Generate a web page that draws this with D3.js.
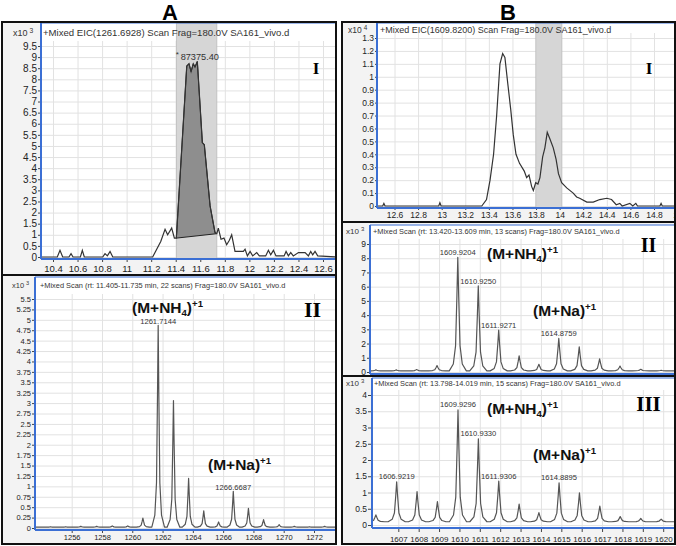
<!DOCTYPE html>
<html>
<head>
<meta charset="utf-8">
<script src="https://cdn.jsdelivr.net/npm/d3@7"></script>
<style>
body { margin: 0; background: #fff; }
text { font-family: "Liberation Sans", Arial, sans-serif; }
</style>
</head>
<body>
<svg id="fig" width="676" height="546"></svg>
<script>
// ---- A-I: EIC 1261.6928, time (min) vs counts (x10^3)
var eicA = [[10.30,0],[10.435,0],[10.457,0.3],[10.479,0],[10.53,0],[10.547,0.15],[10.563,0],[10.623,0],[10.639,0.3],[10.655,0],
  [10.805,0],[10.824,0.15],[10.843,0.05],[10.865,0.25],[10.887,0],[11.212,0],[11.245,0.35],[11.278,0.7],[11.313,1.25],[11.334,1.0],
  [11.367,1.3],[11.389,0.85],[11.405,0.85],[11.49,8.6],[11.508,8.7],[11.525,8.35],[11.543,8.7],[11.557,8.55],[11.576,8.8],[11.617,5.15],
  [11.633,5.05],[11.68,2.3],[11.72,1.1],[11.735,1.05],[11.747,1.3],[11.769,0.8],[11.793,0.85],[11.815,0.55],[11.837,0.75],[11.856,1.0],
  [11.883,0.25],[11.951,0.25],[11.965,0.35],[11.984,0.05],[12.006,0.25],[12.027,0.05],[12.06,0.2],[12.081,0.05],[12.133,0.05],[12.155,0.3],
  [12.174,0.1],[12.196,0.3],[12.217,0.05],[12.283,0.05],[12.299,0.25],[12.318,0.05],[12.337,0.2],[12.358,0.05],[12.4,0.2],[12.454,0.2],
  [12.481,0.05],[12.5,0.25],[12.516,0.1],[12.535,0.25],[12.557,0.05],[12.72,0]];
var shadeA = [11.405, 11.735];
var xTicksAI = [10.4,10.6,10.8,11,11.2,11.4,11.6,11.8,12,12.2,12.4,12.6];
var yTicksAI = [0,0.5,1,1.5,2,2.5,3,3.5,4,4.5,5,5.5,6,6.5,7,7.5,8,8.5,9,9.5];

// ---- A-II: mass spectrum (m/z vs counts x10^3)
var specA = [[1254.6,0.03],[1255.6,0.03],[1256.6,0.04],[1257.65,0.04],[1258.68,0.05],[1259.7,0.05],[1260.7,0.24],[1261.71,4.87],
  [1262.72,3.06],[1263.72,1.19],[1264.72,0.41],[1265.7,0.145],[1266.67,0.88],[1267.67,0.47],[1268.67,0.2],[1269.7,0.08],
  [1270.7,0.04],[1271.7,0.03],[1272.7,0.04]];
var labelsA = [[1261.71,'1261.7144'],[1266.67,'1266.6687']];
var xTicksAII = [1256,1258,1260,1262,1264,1266,1268,1270,1272];
var yTicksAII = [0,0.25,0.5,0.75,1,1.25,1.5,1.75,2,2.25,2.5,2.75,3,3.25,3.5,3.75,4,4.25,4.5,4.75,5,5.25,5.5];

// ---- B-I: EIC 1609.8200, time (min) vs counts (x10^4)
var eicB = [[12.44,0],[12.5,0],[12.51,0.02],[12.52,0],[12.975,0],[12.985,0.025],[12.995,0],[13.34,0],[13.38,0.05],[13.41,0.2],
  [13.44,0.4],[13.466,0.7],[13.494,1.1],[13.517,1.18],[13.536,1.15],[13.56,0.95],[13.585,0.75],[13.607,0.55],[13.63,0.4],[13.66,0.33],
  [13.7,0.27],[13.72,0.22],[13.74,0.24],[13.763,0.15],[13.777,0.12],[13.797,0.18],[13.816,0.17],[13.833,0.22],[13.856,0.38],[13.875,0.45],
  [13.895,0.57],[13.917,0.52],[13.946,0.45],[13.97,0.36],[13.99,0.25],[14.017,0.18],[14.06,0.14],[14.115,0.1],[14.144,0.07],[14.17,0.06],
  [14.23,0.03],[14.285,0.03],[14.34,0.05],[14.4,0.06],[14.44,0.05],[14.48,0.01],[14.51,0.02],[14.53,0],[14.595,0.02],[14.62,0],
  [14.646,0.02],[14.66,0],[14.85,0],[14.86,0.02],[14.87,0],[14.98,0]];
var shadeB = [13.798, 14.019];
var xTicksBI = [12.6,12.8,13,13.2,13.4,13.6,13.8,14,14.2,14.4,14.6,14.8,15];
var yTicksBI = [0,0.1,0.2,0.3,0.4,0.5,0.6,0.7,0.8,0.9,1,1.1,1.2,1.3];

// ---- B-II / B-III: mass spectra (m/z vs counts x10^3)
var specB2 = [[1605.9,0.15],[1606.9,0.15],[1607.9,0.17],[1608.9,0.45],[1609.92,8.07],[1610.925,6.06],[1611.927,2.95],[1612.93,1.13],
  [1613.9,0.54],[1614.876,2.36],[1615.88,1.77],[1616.88,0.92],[1617.88,0.42],[1618.9,0.19],[1619.9,0.12]];
var labelsB2 = [[1609.92,'1609.9204'],[1610.925,'1610.9250'],[1611.927,'1611.9271'],[1614.876,'1614.8759']];
var specB3 = [[1605.9,0.31],[1606.92,1.33],[1607.92,1.03],[1608.92,0.72],[1609.93,3.54],[1610.93,2.65],[1611.93,1.35],[1612.93,0.64],
  [1613.9,0.38],[1614.89,1.30],[1615.89,0.99],[1616.89,0.58],[1617.89,0.26],[1618.9,0.2],[1619.9,0.18]];
var labelsB3 = [[1606.92,'1606.9219'],[1609.93,'1609.9296'],[1610.93,'1610.9330'],[1611.93,'1611.9306'],[1614.89,'1614.8895']];
var xTicksB = [1607,1608,1609,1610,1611,1612,1613,1614,1615,1616,1617,1618,1619,1620];
var yTicksBII = [0,1,2,3,4,5,6,7,8,9];
var yTicksBIII = [0,0.5,1,1.5,2,2.5,3,3.5,4];

var svg = d3.select('#fig');
var blue = '#3b6fd4';

var panels = [
  { id: 'AI', frame: [2, 22, 336, 275], plot: [41, 23, 335, 259], xd: [10.4, 12.6], xr: [53, 323], yd: [0, 9.5], yr: [257, 46],
    xt: xTicksAI, yt: yTicksAI, fx: 9.5, fy: 10, tick: 3, pad: 3, exp: '3', expPos: [13, 36], expSize: 9,
    title: '+Mixed EIC(1261.6928) Scan Frag=180.0V SA161_vivo.d', titlePos: [43, 36], titleSize: 9.6,
    eic: eicA, shade: shadeA, area: true },
  { id: 'AII', frame: [2, 275, 336, 544], plot: [35, 277, 335, 530], xd: [1256, 1272], xr: [71.7, 314], yd: [0, 5.5], yr: [528, 299],
    xt: xTicksAII, yt: yTicksAII, fx: 7.5, fy: 7.5, tick: 3, pad: 2, exp: '3', expPos: [12, 288], expSize: 7.5,
    title: '+Mixed Scan (rt: 11.405-11.735 min, 22 scans) Frag=180.0V SA161_vivo.d', titlePos: [40, 288], titleSize: 7.4,
    spec: specA, base: 0.02, labels: labelsA, labelGap: 1.5 },
  { id: 'BI', frame: [342, 22, 675, 222], plot: [377, 23, 674, 208], xd: [12.6, 14.8], xr: [394.5, 654], yd: [0, 1.3], yr: [206, 38],
    xt: xTicksBI, yt: yTicksBI, fx: 8.5, fy: 8.5, tick: 2, pad: 2, exp: '4', expPos: [348, 33], expSize: 8.5,
    title: '+Mixed EIC(1609.8200) Scan Frag=180.0V SA161_vivo.d', titlePos: [380, 33], titleSize: 9,
    eic: eicB, shade: shadeB, area: false },
  { id: 'BII', frame: [342, 222, 675, 376], plot: [370, 225, 674, 374], xd: [1607, 1620], xr: [398.3, 663.2], yd: [0, 9], yr: [372, 244],
    xt: xTicksB, yt: yTicksBII, fx: 0, fy: 8.5, tick: 3, pad: 2, exp: '3', expPos: [346, 234], expSize: 8,
    title: '+Mixed Scan (rt: 13.420-13.609 min, 13 scans) Frag=180.0V SA161_vivo.d', titlePos: [373, 234], titleSize: 7.4,
    spec: specB2, base: 0.08, labels: labelsB2, labelGap: 2 },
  { id: 'BIII', frame: [342, 376, 675, 544], plot: [372, 378, 674, 528], xd: [1607, 1620], xr: [398.3, 663.2], yd: [0, 4], yr: [525, 395],
    xt: xTicksB, yt: yTicksBIII, fx: 8, fy: 8.5, tick: 4, pad: 4, exp: '3', expPos: [346, 386], expSize: 8,
    title: '+Mixed Scan (rt: 13.798-14.019 min, 15 scans) Frag=180.0V SA161_vivo.d', titlePos: [374, 386], titleSize: 7.4,
    spec: specB3, base: 0.1, labels: labelsB3, labelGap: 2.5 }
];

// spectrum profile: narrow peaks with flared bases on a flat baseline
function peakPoints(peaks, base, lo, hi) {
  var pts = [[lo, base]];
  peaks.forEach(function(d) {
    var m = d[0], h = d[1] - base;
    pts.push([m - 0.42, base], [m - 0.22, base + h * 0.06], [m - 0.11, base + h * 0.22], [m - 0.045, base + h * 0.65], [m, d[1]],
             [m + 0.045, base + h * 0.65], [m + 0.11, base + h * 0.22], [m + 0.22, base + h * 0.06], [m + 0.42, base]);
  });
  pts.push([hi, base]);
  return pts;
}

panels.forEach(function(p) {
  var f = p.frame, pl = p.plot;
  var g = svg.append('g');
  var x = d3.scaleLinear().domain(p.xd).range(p.xr);
  var y = d3.scaleLinear().domain(p.yd).range(p.yr);

  g.append('rect').attr('x', f[0]).attr('y', f[1]).attr('width', f[2] - f[0]).attr('height', f[3] - f[1]).attr('fill', '#f3f3f3');
  g.append('rect').attr('x', pl[0]).attr('y', pl[1]).attr('width', pl[2] - pl[0]).attr('height', pl[3] - pl[1]).attr('fill', '#fff');

  svg.append('clipPath').attr('id', 'clip' + p.id).append('rect')
    .attr('x', pl[0]).attr('y', pl[1]).attr('width', pl[2] - pl[0]).attr('height', pl[3] - pl[1]);
  var inner = g.append('g').attr('clip-path', 'url(#clip' + p.id + ')');

  // grid
  var gridTop = y(p.yt[p.yt.length - 1]) - 5;
  inner.append('g').attr('class', 'grid').attr('transform', 'translate(0,' + pl[3] + ')')
    .call(d3.axisBottom(x).tickValues(p.xt).tickSize(-(pl[3] - gridTop)).tickFormat(''));
  inner.append('g').attr('class', 'grid').attr('transform', 'translate(' + pl[0] + ',0)')
    .call(d3.axisLeft(y).tickValues(p.yt).tickSize(-(pl[2] - pl[0])).tickFormat(''));
  inner.selectAll('.grid .domain').remove();
  inner.selectAll('.grid line').attr('stroke', '#e2e2e2').attr('stroke-width', 1);

  var line = d3.line().x(function(d) { return x(d[0]); }).y(function(d) { return y(d[1]); });

  if (p.eic) {
    inner.append('rect').attr('x', x(p.shade[0])).attr('y', pl[1])
      .attr('width', x(p.shade[1]) - x(p.shade[0])).attr('height', pl[3] - pl[1])
      .attr('fill', '#d6d6d6').attr('stroke', '#bcbcbc').attr('stroke-width', 0.8);
    if (p.area) {
      var inside = p.eic.filter(function(d) { return d[0] >= p.shade[0] - 1e-6 && d[0] <= p.shade[1] + 1e-6; });
      inner.append('path').attr('d', line(inside) + 'Z')
        .attr('fill', '#8e8e8e').attr('stroke', '#222').attr('stroke-width', 1);
    }
    inner.append('path').attr('d', line(p.eic)).attr('fill', 'none').attr('stroke', '#333').attr('stroke-width', 1.2);
  }
  if (p.spec) {
    var pts = peakPoints(p.spec, p.base, x.invert(pl[0]) - 1, x.invert(pl[2]) + 1);
    inner.append('path').attr('d', line(pts)).attr('fill', 'none').attr('stroke', '#555').attr('stroke-width', 1.2)
      .attr('stroke-linejoin', 'round');
    p.labels.forEach(function(l) {
      var pk = p.spec.filter(function(d) { return Math.abs(d[0] - l[0]) < 0.01; })[0];
      g.append('text').attr('x', x(pk[0])).attr('y', y(pk[1]) - p.labelGap).attr('text-anchor', 'middle')
        .attr('font-size', 7.6).attr('fill', '#333').text(l[1]);
    });
  }

  // axes
  var ya = g.append('g').attr('transform', 'translate(' + pl[0] + ',0)')
    .call(d3.axisLeft(y).tickValues(p.yt).tickSize(p.tick).tickPadding(1).tickFormat(function(d) { return String(d); }));
  ya.select('.domain').remove();
  ya.selectAll('text').attr('font-size', p.fy).attr('fill', '#222').style('font-family', '"Liberation Sans", Arial, sans-serif');
  ya.selectAll('line').attr('stroke', '#444');

  var xa = g.append('g').attr('transform', 'translate(0,' + pl[3] + ')')
    .call(d3.axisBottom(x).tickValues(p.xt).tickSize(p.tick).tickPadding(p.pad).tickFormat(function(d) { return p.fx ? String(d) : ''; }));
  xa.select('.domain').remove();
  xa.selectAll('text').attr('font-size', p.fx || 8).attr('fill', '#222').style('font-family', '"Liberation Sans", Arial, sans-serif');
  xa.selectAll('line').attr('stroke', '#444');

  // blue plot frame
  g.append('line').attr('x1', pl[0]).attr('x2', pl[2]).attr('y1', pl[1]).attr('y2', pl[1]).attr('stroke', blue).attr('stroke-width', 1);
  g.append('line').attr('x1', pl[0]).attr('x2', pl[0]).attr('y1', pl[1]).attr('y2', pl[3]).attr('stroke', blue).attr('stroke-width', 2);
  g.append('line').attr('x1', pl[0]).attr('x2', pl[2]).attr('y1', pl[3]).attr('y2', pl[3]).attr('stroke', blue).attr('stroke-width', 2.2);

  // title and exponent
  g.append('text').attr('x', p.titlePos[0]).attr('y', p.titlePos[1]).attr('font-size', p.titleSize).attr('fill', '#333').text(p.title);
  var ex = g.append('text').attr('x', p.expPos[0]).attr('y', p.expPos[1]).attr('font-size', p.expSize).attr('fill', '#333').text('x10');
  ex.append('tspan').attr('dx', 2).attr('dy', -3).attr('font-size', p.expSize * 0.75).text(p.exp);

  // black frame
  g.append('rect').attr('x', f[0]).attr('y', f[1]).attr('width', f[2] - f[0]).attr('height', f[3] - f[1])
    .attr('fill', 'none').attr('stroke', '#111').attr('stroke-width', 2);

  p.x = x; p.y = y; p.g = g;
});

// apex marker on A-I
var pa = panels[0];
pa.g.append('text').attr('x', pa.x(11.4)).attr('y', 57).attr('font-size', 8).attr('fill', '#333').text('*');
pa.g.append('text').attr('x', pa.x(11.44)).attr('y', 60).attr('font-size', 9.2).attr('fill', '#333').text('87375.40');

// column letters
svg.append('text').attr('x', 170).attr('y', 20).attr('text-anchor', 'middle').attr('font-size', 22).attr('font-weight', 'bold').text('A');
svg.append('text').attr('x', 508).attr('y', 20).attr('text-anchor', 'middle').attr('font-size', 22).attr('font-weight', 'bold').text('B');

// roman numerals
var romans = [['I', 316, 74, 17], ['II', 312.5, 317, 22], ['I', 649, 74, 17], ['II', 648.5, 252, 20], ['III', 648.5, 411, 21]];
romans.forEach(function(r) {
  svg.append('text').attr('x', r[1]).attr('y', r[2]).attr('text-anchor', 'middle').attr('font-size', r[3])
    .attr('font-weight', 'bold').style('font-family', '"Liberation Serif", "Times New Roman", serif').text(r[0]);
});

// adduct annotations
function adduct(xp, yp, ion, size) {
  var t = svg.append('text').attr('x', xp).attr('y', yp).attr('font-size', size).attr('font-weight', 'bold').attr('fill', '#111');
  if (ion === 'NH4') {
    t.append('tspan').text('(M+NH');
    t.append('tspan').attr('font-size', size * 0.62).attr('dy', 3).text('4');
    t.append('tspan').attr('dy', -3).text(')');
  } else {
    t.append('tspan').text('(M+Na)');
  }
  t.append('tspan').attr('font-size', size * 0.62).attr('dy', -6).text('+1');
}
adduct(132, 313, 'NH4', 15.5);
adduct(208, 470, 'Na', 15.5);
adduct(487, 259, 'NH4', 15.5);
adduct(533, 316, 'Na', 15.5);
adduct(487, 414, 'NH4', 15.5);
adduct(533, 460, 'Na', 15.5);
</script>
</body>
</html>
